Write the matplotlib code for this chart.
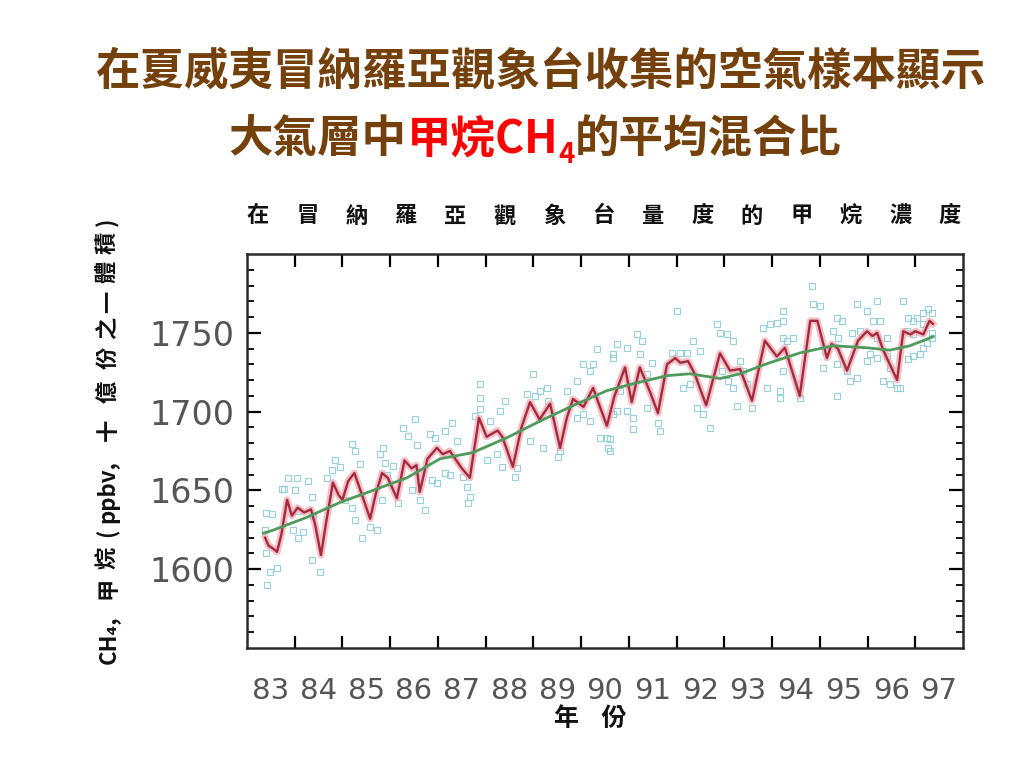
import numpy as np
import matplotlib
matplotlib.use('Agg')
import matplotlib.pyplot as plt

CJK = ['Noto Sans CJK TC', 'DejaVu Sans']

# Monthly-ish smoothed curve (red)
red_years = [1983.38, 1983.45, 1983.55, 1983.63, 1983.72, 1983.84, 1983.94, 1984.06, 1984.2, 1984.34,
             1984.43, 1984.55, 1984.66, 1984.8, 1984.92, 1985.0, 1985.12, 1985.25, 1985.4, 1985.58,
             1985.7, 1985.83, 1985.95, 1986.14, 1986.3, 1986.45, 1986.55, 1986.62, 1986.78, 1986.98,
             1987.1, 1987.25, 1987.5, 1987.67, 1987.86, 1988.02, 1988.25, 1988.35, 1988.57, 1988.75,
             1988.93, 1989.13, 1989.35, 1989.56, 1989.7, 1989.83, 1990.05, 1990.25, 1990.54, 1990.7,
             1990.92, 1991.06, 1991.23, 1991.45, 1991.61, 1991.8, 1991.97, 1992.08, 1992.24, 1992.38,
             1992.62, 1992.91, 1993.12, 1993.33, 1993.58, 1993.85, 1994.1, 1994.27, 1994.58, 1994.8,
             1994.95, 1995.15, 1995.25, 1995.38, 1995.57, 1995.8, 1995.99, 1996.1, 1996.2, 1996.33,
             1996.62, 1996.75, 1996.9, 1997.0, 1997.17, 1997.3, 1997.37]
red_vals = [1620, 1615, 1613, 1611, 1622, 1644, 1634, 1639, 1636, 1638,
            1628, 1609, 1630, 1655, 1647, 1644, 1656, 1661, 1648, 1632,
            1648, 1661, 1658, 1645, 1669, 1664, 1666, 1649, 1670, 1677,
            1673, 1675, 1664, 1658, 1696, 1684, 1688, 1684, 1665, 1690,
            1706, 1695, 1705, 1677, 1696, 1708, 1703, 1715, 1691, 1710,
            1728, 1706, 1728, 1712, 1699, 1730, 1734, 1731, 1732, 1724,
            1704, 1737, 1726, 1727, 1707, 1745, 1735, 1740.5, 1710, 1757.6,
            1757.6, 1734, 1743, 1740, 1726, 1745, 1751, 1748, 1750, 1739,
            1720, 1751, 1749, 1751, 1749, 1757.6, 1755.7]

# Long-term trend (green)
trend_years = [1983.34, 1983.54, 1984.26, 1984.95, 1985.64, 1986.35, 1987.04, 1987.73, 1988.45,
               1989.14, 1989.83, 1990.54, 1991.09, 1991.8, 1992.28, 1992.91, 1993.33, 1993.89,
               1994.59, 1995.28, 1995.99, 1996.47, 1996.89, 1997.37]
trend_vals = [1622.8, 1624.7, 1633, 1642.4, 1650, 1658, 1670, 1674, 1683.5,
              1694, 1703.8, 1713.3, 1717.7, 1722.8, 1724, 1721, 1724, 1730.4,
              1737.3, 1741.8, 1740.5, 1739, 1741.8, 1747.5]

# Individual flask samples (squares)
obs_years = [1983.40, 1983.52, 1983.38, 1983.40, 1983.48, 1983.63, 1983.42, 1983.73, 1983.78, 1983.86,
             1984.05, 1984.01, 1984.07, 1983.96, 1984.07, 1984.17, 1984.28, 1984.36, 1984.38, 1984.36,
             1984.53, 1984.68, 1984.78, 1984.84, 1984.95, 1985.05, 1985.20, 1985.26, 1985.37, 1985.20,
             1985.26, 1985.41, 1985.58, 1985.72, 1985.79, 1985.85, 1985.89, 1985.93, 1985.83, 1986.06,
             1986.16, 1986.27, 1986.37, 1986.52, 1986.56, 1986.46, 1986.62, 1986.73, 1986.83, 1986.94,
             1986.88, 1986.98, 1987.15, 1987.29, 1987.40, 1987.15, 1987.25, 1987.53, 1987.61, 1987.67,
             1987.63, 1987.88, 1987.88, 1987.88, 1987.78, 1988.09, 1988.30, 1988.41, 1988.03, 1988.24,
             1988.34, 1988.66, 1988.61, 1988.99, 1988.87, 1989.03, 1989.14, 1989.29, 1989.31, 1988.93,
             1989.20, 1989.56, 1989.52, 1989.70, 1989.91, 1990.04, 1990.19, 1990.25, 1990.67, 1989.91,
             1990.04, 1990.19, 1990.40, 1990.61, 1990.61, 1990.75, 1990.33, 1990.75, 1990.96, 1991.17,
             1991.28, 1991.23, 1990.67, 1990.81, 1990.67, 1990.96, 1991.09, 1991.09, 1990.54, 1990.56,
             1991.38, 1991.38, 1991.49, 1991.61, 1991.65, 1991.90, 1992.07, 1992.22, 1992.01, 1992.34,
             1992.49, 1992.13, 1992.28, 1992.43, 1992.55, 1992.70, 1992.85, 1992.91, 1993.06, 1993.18,
             1992.95, 1993.08, 1993.18, 1993.33, 1993.39, 1993.27, 1993.58, 1993.48, 1993.81, 1993.96,
             1994.10, 1994.23, 1993.89, 1994.17, 1994.17, 1994.31, 1994.44, 1994.84, 1994.86, 1995.01,
             1994.23, 1994.23, 1994.23, 1994.59, 1994.59, 1995.36, 1995.47, 1995.28, 1995.38, 1995.11,
             1995.07, 1995.36, 1995.57, 1995.63, 1995.78, 1995.78, 1995.99, 1996.20, 1995.84, 1995.68,
             1996.12, 1996.26, 1996.20, 1996.41, 1995.99, 1996.20, 1996.05, 1996.41, 1995.36, 1996.32,
             1996.47, 1996.62, 1996.68, 1996.47, 1996.74, 1996.85, 1996.95, 1997.04, 1997.16, 1997.27,
             1997.35, 1996.83, 1996.95, 1997.16, 1996.85, 1996.95, 1997.10, 1997.16, 1997.25, 1997.35,
             1997.35]
obs_vals = [1635.4, 1635, 1624.7, 1610, 1598, 1601, 1590, 1651, 1650.6, 1657.6,
            1658, 1650, 1637, 1624.7, 1620, 1623.4, 1656, 1645.6, 1634, 1605.7,
            1598, 1657.6, 1662.7, 1669, 1664.6, 1643.7, 1679.7, 1675.3, 1667, 1639,
            1631, 1620, 1626.6, 1624.7, 1673.4, 1677.2, 1667.7, 1659.5, 1643.7, 1665.8,
            1641.8, 1689.9, 1684.8, 1695.6, 1678.5, 1650, 1643.7, 1637.3, 1686, 1683.5,
            1656.3, 1655, 1688, 1693, 1681.6, 1660.8, 1659.5, 1658.2, 1651.9, 1645.6,
            1641.8, 1717.7, 1708.9, 1701.9, 1697.5, 1694.3, 1700.6, 1707, 1669, 1673.4,
            1664.6, 1664, 1658.2, 1724, 1711.4, 1710.1, 1713.3, 1715.2, 1707, 1681.6,
            1677.2, 1675.3, 1670.9, 1713.3, 1719.6, 1730.4, 1726, 1730.4, 1734.2, 1696.2,
            1698.7, 1694.3, 1683.5, 1682.9, 1675.3, 1700.6, 1739.9, 1743, 1740.5, 1749.4,
            1744.9, 1736.7, 1736.7, 1713.3, 1698.7, 1700.6, 1696.2, 1689.2, 1683.5, 1676.6,
            1702.5, 1724, 1731, 1693, 1688, 1737.3, 1737.3, 1737.3, 1763.9, 1744.9,
            1738.6, 1715.2, 1717.7, 1702.5, 1698.7, 1689.9, 1755.7, 1750, 1749.4, 1744.9,
            1726, 1719.6, 1715.2, 1732.3, 1726, 1703.8, 1702.5, 1717.7, 1753.2, 1755.7,
            1756.3, 1763.9, 1715.2, 1713.3, 1708.9, 1744.9, 1746.8, 1779.7, 1768.4, 1767.1,
            1757.6, 1746.8, 1726, 1708.9, 1717.7, 1759.5, 1757.6, 1751.3, 1746.8, 1738.6,
            1727.8, 1730.4, 1726, 1719.6, 1721.5, 1768.4, 1763.9, 1770.3, 1751.3, 1750,
            1757.6, 1757.6, 1746.8, 1746.8, 1732.3, 1734.2, 1736.7, 1735.4, 1710.1, 1719.6,
            1717.7, 1715.2, 1715.2, 1727.8, 1770.3, 1759.5, 1757.6, 1759.5, 1762.7, 1765.2,
            1762.7, 1751.3, 1749.4, 1755.7, 1733.5, 1735.4, 1736.7, 1740.5, 1743.7, 1746.8,
            1750]

year_labels = ['83', '84', '85', '86', '87', '88', '89', '90', '91', '92', '93', '94', '95', '96', '97']
y_ticks = [1600, 1650, 1700, 1750]
ylabel_parts = ['CH₄,', '甲', '烷', '(', 'ppbv,', '十', '億', '份', '之', '一', '體', '積', ')']
# vertical centre of each label piece, pixels from the top of the figure
ylabel_pos = [640, 588, 558, 533, 492, 430, 392, 358, 328, 302, 272, 243, 222]

fig = plt.figure(figsize=(10.24, 7.68), dpi=100)
ax = fig.add_axes([0.2412, 0.15625, 0.6992, 0.5130])

ax.plot(obs_years, obs_vals, 's', ms=4.5, mfc='none', mec='#86c9d9', mew=0.8, alpha=0.85, zorder=2)
ax.plot(red_years, red_vals, color='#eaa7b0', lw=5, alpha=0.7, solid_joinstyle='round', zorder=3)
ax.plot(red_years, red_vals, color='#a8283c', lw=1.7, solid_joinstyle='round', zorder=4)
ax.plot(trend_years, trend_vals, color='#4f9a5c', lw=2.0, zorder=5)

ax.set_xlim(1983, 1998)
ax.set_ylim(1550, 1800)

# year ticks at year boundaries, labels centred in each year
ax.set_xticks(np.arange(1984, 1998))
ax.set_xticklabels([])
ax.set_xticks(np.arange(1983.5, 1998, 1.0), minor=True)
ax.set_xticklabels(year_labels, minor=True, fontsize=21, color='#555555', family='DejaVu Sans')
ax.tick_params(axis='x', which='major', direction='in', length=9, width=1.6, top=True, bottom=True)
ax.tick_params(axis='x', which='minor', length=0, pad=21)

ax.set_yticks(y_ticks)
ax.set_yticklabels([str(v) for v in y_ticks], fontsize=24, color='#555555', family='DejaVu Sans')
ax.set_yticks(np.arange(1560, 1800, 10), minor=True)
ax.tick_params(axis='y', which='major', direction='in', length=10, width=1.6, left=True, right=True, pad=9)
ax.tick_params(axis='y', which='minor', direction='in', length=5, width=1.3, left=True, right=True)

for s in ax.spines.values():
    s.set_linewidth(1.8)
    s.set_color('#2a2a2a')

# inner chart title, one character per slot
inner_title = '在冒納羅亞觀象台量度的甲烷濃度'
for i, ch in enumerate(inner_title):
    fig.text((258 + i * 49.4) / 1024, 1 - 216 / 768, ch, ha='center', va='center',
             fontsize=16, fontweight='bold', family=CJK, color='#111111')

# rotated y label
for s, yp in zip(ylabel_parts, ylabel_pos):
    fig.text(108 / 1024, 1 - yp / 768, s, ha='center', va='center', rotation=90,
             fontsize=16, fontweight='bold', family=CJK, color='#111111')

fig.text(590 / 1024, 1 - 719 / 768, '年    份', ha='center', va='center',
         fontsize=18, fontweight='bold', family=CJK, color='#111111')

# slide title
brown = '#74400c'
fig.text(541 / 1024, 1 - 72 / 768, '在夏威夷冒納羅亞觀象台收集的空氣樣本顯示', ha='center', va='center',
         fontsize=32, fontweight='bold', family=CJK, color=brown)

fig.canvas.draw()
r = fig.canvas.get_renderer()
pieces = [('大氣層中', brown, 32, 0.0), ('甲烷CH', 'red', 32, 0.0), ('4', 'red', 20, -0.02),
          ('的平均混合比', brown, 32, 0.0)]
widths = []
for s, c, size, dy in pieces:
    t = fig.text(0, 0, s, fontsize=size, fontweight='bold', family=CJK)
    widths.append(t.get_window_extent(r).width / fig.bbox.width)
    t.remove()
x = 535 / 1024 - sum(widths) / 2
y = 1 - 140 / 768
for (s, c, size, dy), w in zip(pieces, widths):
    fig.text(x, y + dy, s, ha='left', va='center', fontsize=size,
             fontweight='bold', family=CJK, color=c)
    x += w

fig.savefig('out.png', dpi=100, facecolor='white')
